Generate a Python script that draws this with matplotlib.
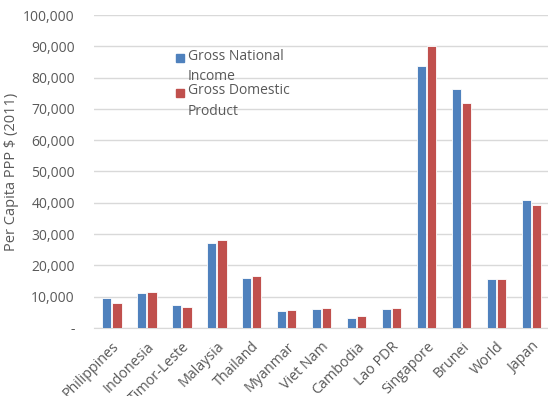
import matplotlib
matplotlib.use('Agg')
import matplotlib.pyplot as plt
import numpy as np
from matplotlib.patches import Rectangle
from matplotlib.ticker import FuncFormatter

countries = ['Philippines', 'Indonesia', 'Timor-Leste', 'Malaysia', 'Thailand',
             'Myanmar', 'Viet Nam', 'Cambodia', 'Lao PDR', 'Singapore',
             'Brunei', 'World', 'Japan']
gni = [9500, 11100, 7300, 27000, 16000, 5500, 6000, 3300, 6100, 83800,
       76400, 15600, 40900]
gdp = [7800, 11400, 6700, 28200, 16700, 5700, 6400, 3700, 6400, 90200,
       71800, 15700, 39300]
series_names = ['Gross National\nIncome', 'Gross Domestic\nProduct']
colors = ['#4F81BD', '#C0504D']

plt.rcParams['font.family'] = ['Open Sans', 'DejaVu Sans']
grey = '#595959'

fig = plt.figure(figsize=(5.48, 3.96), dpi=100)
ax = fig.add_axes([0.172, 0.172, 0.83, 0.79])

x = np.arange(len(countries))
w = 0.27
ax.bar(x - w / 2 - 0.01, gni, w, color=colors[0], edgecolor='white',
       linewidth=0.6, zorder=3)
ax.bar(x + w / 2 + 0.01, gdp, w, color=colors[1], edgecolor='white',
       linewidth=0.6, zorder=3)

ax.set_xlim(-0.5, len(countries) - 0.5)
ax.set_ylim(0, 100000)
ax.set_yticks(np.arange(0, 100001, 10000))
ax.yaxis.set_major_formatter(FuncFormatter(
    lambda v, p: '-' if v == 0 else f'{int(v):,}'))
ax.grid(axis='y', color='#D9D9D9', linewidth=1, zorder=0)
for s in ['top', 'right', 'left']:
    ax.spines[s].set_visible(False)
ax.spines['bottom'].set_color('#D9D9D9')
ax.tick_params(axis='both', length=0, colors=grey, labelsize=10)
ax.tick_params(axis='y', pad=14)
ax.tick_params(axis='x', pad=8, labelsize=10.3)

ax.set_xticks(x)
ax.set_xticklabels(countries, rotation=45, ha='right', rotation_mode='anchor')
ax.set_ylabel('Per Capita PPP $ (2011)', color=grey, fontsize=10.5)
ax.yaxis.set_label_coords(-0.165, 0.5)

# legend drawn by hand so the swatch sits beside the first line of each label
for i, (name, c) in enumerate(zip(series_names, colors)):
    y0 = 0.862 - i * 0.11
    ax.add_patch(Rectangle((0.18, y0 - 0.013), 0.0176, 0.026, color=c,
                           transform=ax.transAxes, zorder=4))
    ax.text(0.206, y0 + 0.03, name, transform=ax.transAxes, va='top',
            ha='left', fontsize=10, color=grey, linespacing=1.5, zorder=4)

plt.savefig('out.png', dpi=100)
